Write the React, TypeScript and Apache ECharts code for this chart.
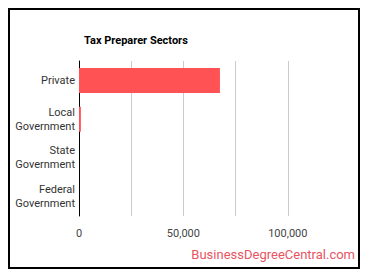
import React, { useEffect, useRef } from "react";
import * as echarts from "echarts";

const categories = ["Private", "Local\nGovernment", "State\nGovernment", "Federal\nGovernment"];
const employment = [67500, 900, 0, 0];
const tickValues = [0, 50000, 100000];

export default function App() {
  const ref = useRef<HTMLDivElement>(null);

  useEffect(() => {
    if (!ref.current) return;
    const chart = echarts.init(ref.current, null, { renderer: "svg" });
    chart.setOption({
      animation: false,
      textStyle: { fontFamily: "Roboto" },
      title: {
        text: "Tax Preparer Sectors",
        left: 69,
        top: 20,
        textStyle: { fontFamily: "Roboto", fontSize: 11, fontWeight: "bold", color: "#000" },
      },
      grid: { left: 69, right: 18, top: 51, bottom: 51, containLabel: false },
      xAxis: {
        type: "value",
        min: 0,
        max: 125000,
        interval: 25000,
        axisLine: { show: false },
        axisTick: { show: false },
        splitLine: { show: true, showMaxLine: false, lineStyle: { color: "#cccccc", width: 1 } },
        axisLabel: {
          color: "#444",
          fontSize: 11,
          fontFamily: "Roboto",
          margin: 12,
          showMaxLabel: false,
          formatter: (v: number) => (tickValues.includes(v) ? v.toLocaleString("en-US") : ""),
        },
      },
      yAxis: {
        type: "category",
        data: categories,
        inverse: true,
        axisLine: { show: true, lineStyle: { color: "#000", width: 1 } },
        axisTick: { show: false },
        axisLabel: { color: "#333", fontSize: 11, fontFamily: "Roboto", margin: 4, lineHeight: 14 },
      },
      series: [
        {
          type: "bar",
          data: employment,
          barWidth: 25,
          itemStyle: { color: "#ff5254" },
        },
      ],
      graphic: [
        {
          type: "text",
          right: 3,
          top: 238,
          style: {
            text: "BusinessDegreeCentral.com",
            fill: "#e8545f",
            fontSize: 13,
            fontFamily: "Roboto",
          },
        },
      ],
    });
    return () => chart.dispose();
  }, []);

  return (
    <div style={{ width: 352, height: 261, border: "2px solid #000", boxSizing: "border-box" }}>
      <div ref={ref} style={{ width: 348, height: 257 }} />
    </div>
  );
}
